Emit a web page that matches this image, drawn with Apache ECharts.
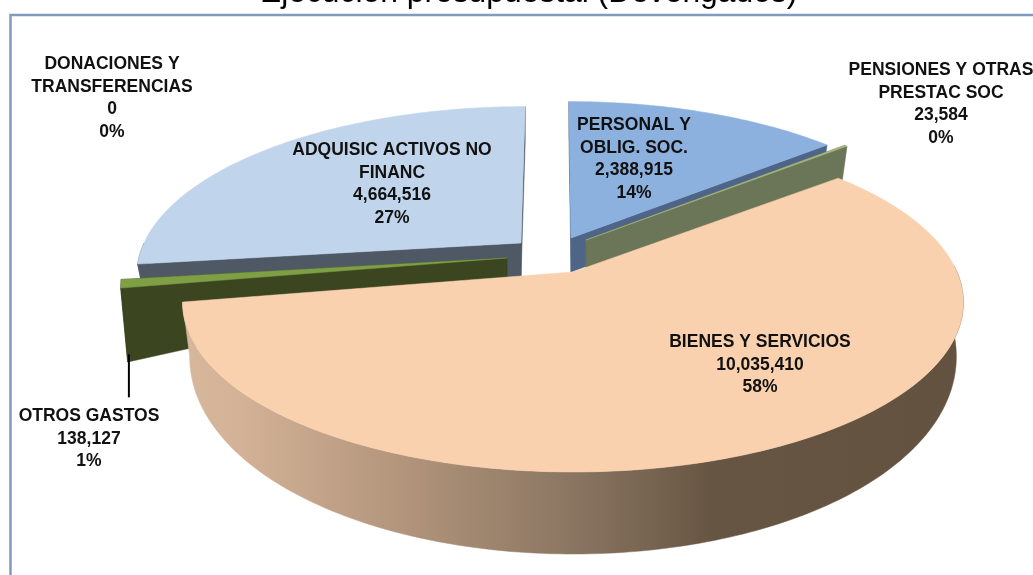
<!DOCTYPE html>
<html>
<head>
<meta charset="utf-8">
<style>
  html, body { margin: 0; padding: 0; background: #fff; overflow: hidden; }
  #chart { width: 1033px; height: 575px; }
</style>
<script src="https://cdn.jsdelivr.net/npm/echarts@6/dist/echarts.min.js"></script>
</head>
<body>
<div id="chart"></div>
<script>
const titleText = "Ejecución presupuestal (Devengados)";
const categories = [
  "PERSONAL Y\nOBLIG. SOC.",
  "PENSIONES Y OTRAS\nPRESTAC SOC",
  "BIENES Y SERVICIOS",
  "OTROS GASTOS",
  "DONACIONES Y\nTRANSFERENCIAS",
  "ADQUISIC ACTIVOS NO\nFINANC",
];
const values = [2388915, 23584, 10035410, 138127, 0, 4664516];

// painter's order, back slices first
const drawOrder = [4, 5, 3, 0, 1, 2];

const total = values.reduce((a, b) => a + b, 0);
const startAngles = [];
values.reduce((sum, v, i) => {
  startAngles[i] = (sum / total) * 360;
  return sum + v;
}, 0);

// look of each slice: apex on screen, radii, wall height at apex / rim / front, lean of the back
const sliceStyle = [
  { cx: 571, cy: 238, r: 376, flat: 161, dA: 34, dR: 34, dF: 0, lean: 2.5, top: "#8DB1DF", wall: "#4F6587" },
  { cx: 586, cy: 240, r: 378, flat: 164, dA: 34, dR: 34, dF: 0, lean: 0, top: "#A3B67C", wall: "#6B7558" },
  { cx: 573, cy: 272, r: 384, flat: 164, dA: 48, dR: 48, dF: 34, lean: 0, top: "#FAD1AF", wall: "#A88A72" },
  { cx: 507, cy: 258, r: 380, flat: 164, dA: 20, dR: 74, dF: 0, lean: 0, top: "#7F9F45", wall: "#3B4520" },
  null,
  { cx: 521, cy: 243, r: 377, flat: 161, dA: 34, dR: 34, dF: 0, lean: -5, top: "#C0D5EC", wall: "#4F5966" },
];
const labelPos = [
  [634, 114], [941, 59], [760, 331], [89, 405], [112, 53], [392, 139],
];

const persp = 0.18;
const lineH = 22.6;

function project(st, deg, scale, drop, front) {
  const rad = (deg * Math.PI) / 180;
  const X = Math.sin(rad);
  const Y = -Math.cos(rad);
  const s = 1 / (1 - persp * Y);
  return [
    st.cx + (X * st.r * scale + st.lean * Y) * s,
    st.cy + Y * st.flat * s + drop + front * Math.max(Y, 0),
  ];
}

function arc(st, a0, a1, scale, drop, front) {
  const pts = [];
  const n = Math.max(2, Math.ceil(a1 - a0));
  for (let i = 0; i <= n; i++) {
    pts.push(project(st, a0 + ((a1 - a0) * i) / n, scale, drop, front));
  }
  return pts;
}

function labelText(i) {
  const pct = Math.round((values[i] / total) * 100);
  return categories[i] + "\n" + values[i].toLocaleString("en-US") + "\n" + pct + "%";
}

function renderSlice(params) {
  const i = drawOrder[params.dataIndex];
  const st = sliceStyle[i];
  const children = [];

  if (st) {
    const a0 = startAngles[i];
    const a1 = a0 + (values[i] / total) * 360;
    const topRim = arc(st, a0, a1, 1, 0, 0);
    const lowRim = arc(st, a0, a1, 0.982, st.dR, st.dF);
    const apex = [st.cx, st.cy];
    const apexLow = [st.cx, st.cy + st.dA];

    let wallFill = st.wall;
    if (i === 2) {
      wallFill = {
        type: "linear", x: 0, y: 0, x2: 1, y2: 0,
        colorStops: [
          { offset: 0, color: "#D8B89C" },
          { offset: 0.08, color: "#D2B196" },
          { offset: 0.3, color: "#AF9279" },
          { offset: 0.49, color: "#8C7763" },
          { offset: 0.68, color: "#675543" },
          { offset: 1, color: "#645241" },
        ],
      };
    }
    const poly = (points, fill) => ({
      type: "polygon",
      shape: { points },
      style: { fill, stroke: fill, lineWidth: 0.5 },
    });

    if (i !== 2) {
      children.push(poly([apex, topRim[0], lowRim[0], apexLow], st.wall));
      children.push(poly([apex, topRim[topRim.length - 1], lowRim[lowRim.length - 1], apexLow], st.wall));
    }
    // only the front part of the rim shows a wall
    const w0 = Math.max(a0, 88);
    const w1 = Math.min(a1, 270);
    if (w1 > w0) {
      const wallTop = arc(st, w0, w1, 1, 0, 0);
      const wallLow = arc(st, w0, w1, 0.982, st.dR, st.dF);
      children.push(poly(wallTop.concat(wallLow.slice().reverse()), wallFill));
    }
    children.push(poly([apex].concat(topRim), st.top));

    if (i === 3) {
      const foot = lowRim[Math.floor(lowRim.length / 2)];
      children.push({
        type: "line",
        shape: { x1: foot[0] + 1, y1: foot[1] - 2, x2: foot[0] + 1, y2: foot[1] + 41 },
        style: { stroke: "#000", lineWidth: 2 },
      });
    }
  }

  return { type: "group", children };
}

function renderLabel(params) {
  const i = params.dataIndex;
  return {
    type: "text",
    x: labelPos[i][0],
    y: labelPos[i][1],
    style: {
      text: labelText(i),
      fill: "#111",
      font: 'bold 17.5px "Liberation Sans"',
      lineHeight: lineH,
      textAlign: "center",
      textVerticalAlign: "top",
    },
  };
}

const chart = echarts.init(document.getElementById("chart"));
chart.setOption({
  animation: false,
  title: {
    text: titleText,
    left: 255,
    top: -28,
    textStyle: { color: "#000", fontSize: 31.8, fontWeight: "normal", fontFamily: "Liberation Sans" },
  },
  graphic: [
    {
      type: "rect",
      silent: true,
      z: 0,
      shape: { x: 10.5, y: 15, width: 1100, height: 700 },
      style: { fill: "#fff", stroke: "#7F9BBF", lineWidth: 2.5 },
    },
  ],
  series: [
    {
      type: "custom",
      coordinateSystem: "none",
      silent: true,
      z: 2,
      renderItem: renderSlice,
      data: drawOrder.map((i) => values[i]),
    },
    {
      type: "custom",
      coordinateSystem: "none",
      silent: true,
      z: 3,
      renderItem: renderLabel,
      data: values,
    },
  ],
});
</script>
</body>
</html>
